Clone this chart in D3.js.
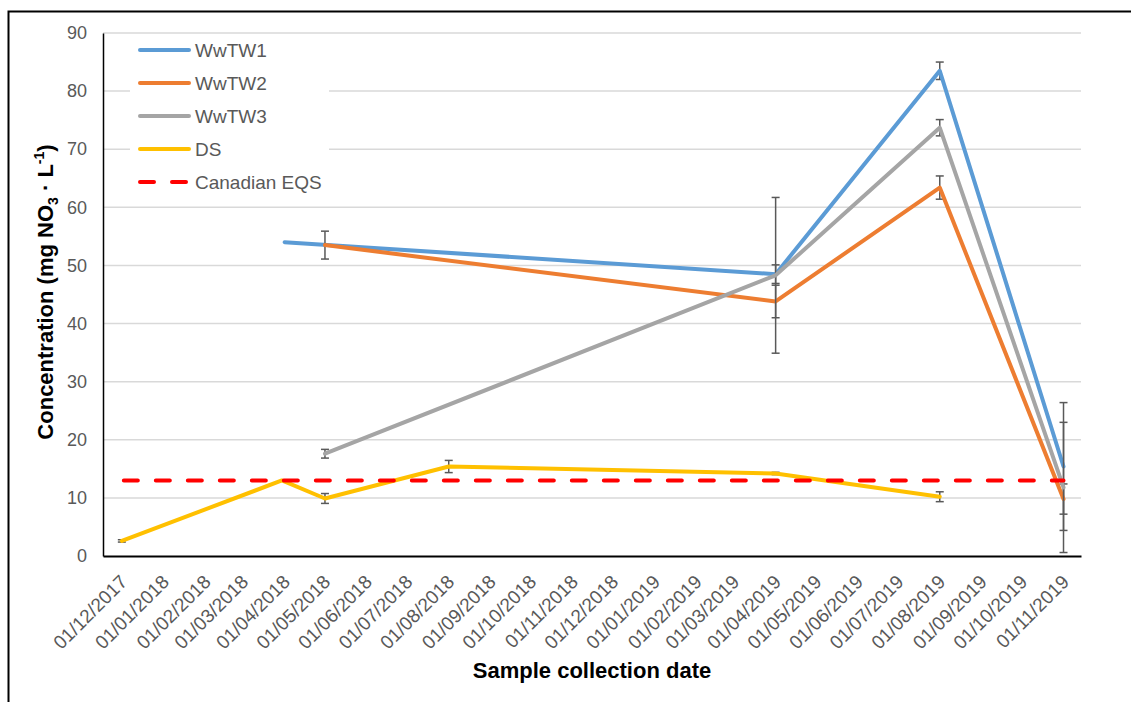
<!DOCTYPE html>
<html><head><meta charset="utf-8">
<script src="https://cdn.jsdelivr.net/npm/d3@7"></script>
<style>
body{margin:0;background:#fff}
svg{display:block}
text{font-family:Arial,"Liberation Sans",sans-serif}
</style>
</head><body>
<svg id="chart" width="1131" height="702"></svg>
<script>
// ---- data ----
const xTickLabels = ["01/12/2017","01/01/2018","01/02/2018","01/03/2018","01/04/2018","01/05/2018","01/06/2018","01/07/2018","01/08/2018","01/09/2018","01/10/2018","01/11/2018","01/12/2018","01/01/2019","01/02/2019","01/03/2019","01/04/2019","01/05/2019","01/06/2019","01/07/2019","01/08/2019","01/09/2019","01/10/2019","01/11/2019"];
const yTicks = [0,10,20,30,40,50,60,70,80,90];

const ww1Dates  = ["01/04/2018","01/04/2019","01/08/2019","01/11/2019"];
const ww1Values = [54.0, 48.5, 83.5, 15.4];
const ww1Errors = [0, 1.6, 1.5, 11.0];

const ww2Dates  = ["01/05/2018","01/04/2019","01/08/2019","01/11/2019"];
const ww2Values = [53.5, 43.8, 63.4, 9.8];
const ww2Errors = [2.4, 2.8, 2.0, 2.6];

const ww3Dates  = ["01/05/2018","01/04/2019","01/08/2019","01/11/2019"];
const ww3Values = [17.6, 48.3, 73.7, 11.8];
const ww3Errors = [0.75, 13.4, 1.4, 11.2];

const dsDates  = ["01/12/2017","30/03/2018","01/05/2018","01/08/2018","01/04/2019","01/08/2019"];
const dsValues = [2.6, 13.0, 9.9, 15.4, 14.2, 10.2];
const dsErrors = [0.2, 0, 0.85, 1.05, 0.2, 0.85];

const eqsDates  = ["01/12/2017","01/11/2019"];
const eqsValues = [13, 13];

const seriesNames = ["WwTW1","WwTW2","WwTW3","DS","Canadian EQS"];
const seriesColors = ["#5b9bd5","#ed7d31","#a5a5a5","#ffc000","#ff0000"];

// ---- setup ----
const parse = d3.timeParse("%d/%m/%Y");
const svg = d3.select("#chart");

// outer frame
svg.append("rect").attr("x",8.5).attr("y",11.5).attr("width",1200).attr("height",800)
  .attr("fill","none").attr("stroke","#000").attr("stroke-width",2);

const pLeft = 103, pRight = 1081, pTop = 33, pBottom = 556;
const x = d3.scaleTime()
  .domain([new Date(2017,10,17), new Date(2019,10,14)])
  .range([pLeft, pRight]);
const y = d3.scaleLinear().domain([0,90]).range([pBottom, pTop]);

// gridlines
svg.append("g").selectAll("line").data(yTicks.filter(d=>d>0)).join("line")
  .attr("x1",pLeft).attr("x2",pRight)
  .attr("y1",d=>y(d)).attr("y2",d=>y(d))
  .attr("stroke","#d9d9d9").attr("stroke-width",1.5);

// y axis
const yAxis = svg.append("g").attr("transform",`translate(${pLeft},0)`)
  .call(d3.axisLeft(y).tickValues(yTicks).tickSize(0).tickPadding(16));
yAxis.select(".domain").attr("stroke","#000").attr("stroke-width",1.5);
yAxis.selectAll("text").attr("font-size",18).attr("fill","#595959")
  .attr("font-family","Arial, 'Liberation Sans', sans-serif");

// x axis
const xTickDates = xTickLabels.map(parse);
const xAxis = svg.append("g").attr("transform",`translate(0,${pBottom})`)
  .call(d3.axisBottom(x).tickValues(xTickDates).tickSize(0).tickFormat(d3.timeFormat("%d/%m/%Y")));
xAxis.select(".domain").attr("stroke","#000").attr("stroke-width",2);
xAxis.selectAll("text")
  .attr("font-size",19).attr("fill","#595959")
  .attr("font-family","Arial, 'Liberation Sans', sans-serif")
  .attr("text-anchor","end")
  .attr("dy","0")
  .attr("transform","translate(4,25) rotate(-45)");

// series
const series = [
  {dates:ww1Dates, values:ww1Values, errors:ww1Errors},
  {dates:ww2Dates, values:ww2Values, errors:ww2Errors},
  {dates:ww3Dates, values:ww3Values, errors:ww3Errors},
  {dates:dsDates, values:dsValues, errors:dsErrors}
];
const line = d3.line().x(d=>x(d.date)).y(d=>y(d.value));

series.forEach((s,i)=>{
  const pts = s.dates.map((d,j)=>({date:parse(d), value:s.values[j], err:s.errors[j]}));
  const g = svg.append("g");
  const eb = pts.filter(p=>p.err>0);
  g.selectAll(".ev").data(eb).join("line")
    .attr("x1",p=>x(p.date)).attr("x2",p=>x(p.date))
    .attr("y1",p=>y(p.value-p.err)).attr("y2",p=>y(p.value+p.err))
    .attr("stroke","#595959").attr("stroke-width",1.5);
  [-1,1].forEach(sg=>{
    g.append("g").selectAll("line").data(eb).join("line")
      .attr("x1",p=>x(p.date)-4).attr("x2",p=>x(p.date)+4)
      .attr("y1",p=>y(p.value+sg*p.err)).attr("y2",p=>y(p.value+sg*p.err))
      .attr("stroke","#595959").attr("stroke-width",1.5);
  });
  g.append("path").datum(pts).attr("d",line)
    .attr("fill","none").attr("stroke",seriesColors[i]).attr("stroke-width",4)
    .attr("stroke-linejoin","round").attr("stroke-linecap","round");
});

// Canadian EQS
const eqsPts = eqsDates.map((d,j)=>({date:parse(d), value:eqsValues[j]}));
svg.append("path").datum(eqsPts).attr("d",line)
  .attr("fill","none").attr("stroke",seriesColors[4]).attr("stroke-width",4)
  .attr("stroke-dasharray","14,18").attr("stroke-linecap","round")
  .attr("stroke-dashoffset",-2);

// legend
const lg = svg.append("g");
lg.append("rect").attr("x",130).attr("y",36).attr("width",199).attr("height",162).attr("fill","#fff");
seriesNames.forEach((n,i)=>{
  const yy = 50 + i*33;
  lg.append("line").attr("x1",140).attr("x2",189).attr("y1",yy).attr("y2",yy)
    .attr("stroke",seriesColors[i]).attr("stroke-width",4)
    .attr("stroke-linecap","round")
    .attr("stroke-dasharray", i===4 ? "14,18" : null);
  lg.append("text").attr("x",195).attr("y",yy+6.5).attr("font-size",19)
    .attr("fill","#595959").text(n);
});

// axis titles
svg.append("text").attr("x",592).attr("y",678).attr("text-anchor","middle")
  .attr("font-size",22).attr("font-weight","bold").attr("fill","#000")
  .text("Sample collection date");

const yt = svg.append("text").attr("transform","translate(53,292) rotate(-90)")
  .attr("text-anchor","middle").attr("font-size",22).attr("font-weight","bold").attr("fill","#000");
yt.append("tspan").text("Concentration (mg NO");
yt.append("tspan").attr("font-size",14).attr("dy",5).text("3");
yt.append("tspan").attr("dy",-5).text(" · L");
yt.append("tspan").attr("font-size",14).attr("dy",-9).text("-1");
yt.append("tspan").attr("dy",9).text(")");
</script>
</body></html>
